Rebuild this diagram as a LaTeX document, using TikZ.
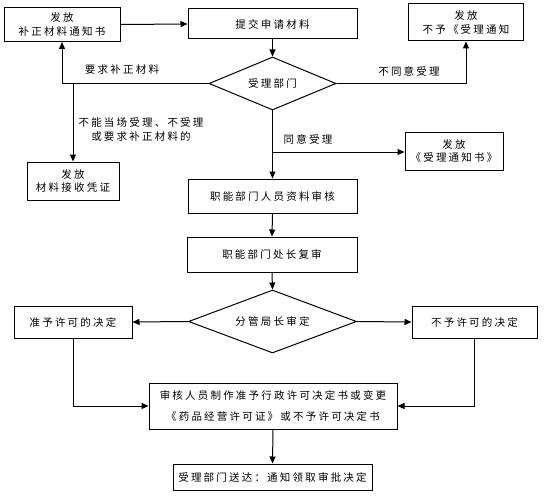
\documentclass[tikz,border=0pt]{standalone}
\usepackage{fontspec}
\newfontfamily\cjk[LetterSpace=21]{Noto Sans CJK SC}
\usetikzlibrary{arrows.meta,shapes.geometric}
\begin{document}
\begin{tikzpicture}[x=1pt,y=-1pt,
  every node/.style={font=\cjk\fontsize{10.5}{13.5}\selectfont, align=center, inner sep=0pt},
  box/.style={draw, line width=1pt, rectangle},
  dia/.style={draw, line width=1pt, diamond, aspect=2.4},
  conn/.style={line width=1pt, -{Triangle[length=7pt,width=6pt]}},
  plain/.style={line width=1pt}]
\useasboundingbox (0,0) rectangle (548,500);
\fill[white] (0,0) rectangle (548,500);
% boxes
\node[box, minimum width=116pt, minimum height=34pt] (b1) at (62,24.5) {发放\\补正材料通知书};
\node[box, minimum width=169pt, minimum height=30pt] (b2) at (272.5,24) {提交申请材料};
\node[box, minimum width=115pt, minimum height=37pt] (b3) at (466,22.5) {发放\\不予《受理通知};
\node[dia, minimum width=127pt, minimum height=53pt] (d1) at (272.5,83.5) {受理部门};
\node[box, minimum width=92pt, minimum height=38pt] (b4) at (73,181) {发放\\材料接收凭证};
\node[box, minimum width=169pt, minimum height=34pt] (b5) at (272.5,196) {职能部门人员资料审核};
\node[box, minimum width=98pt, minimum height=38pt] (b6) at (454,151) {发放\\《受理通知书》};
\node[box, minimum width=170pt, minimum height=35pt] (b7) at (272,254.5) {职能部门处长复审};
\node[dia, minimum width=168pt, minimum height=63pt] (d2) at (272.5,321.5) {分管局长审定};
\node[box, minimum width=118pt, minimum height=32pt] (b10) at (73,322) {准予许可的决定};
\node[box, minimum width=125pt, minimum height=32pt] (b11) at (474.5,322) {不予许可的决定};
\node[box, minimum width=248pt, minimum height=46pt] (b8) at (273,406) {审核人员制作准予行政许可决定书或变更\\[7pt]《药品经营许可证》或不予许可决定书};
\node[box, minimum width=199pt, minimum height=26pt] (b9) at (272.5,477) {受理部门送达：通知领取审批决定};
% labels
\node (l1) at (122,70) {要求补正材料};
\node (l2) at (409,71) {不同意受理};
\node (l3) at (141,129.5) {不能当场受理、不受理\\或要求补正材料的};
\node (l4) at (308,139) {同意受理};
% junctions
\coordinate (j1) at (73,83.5);
\coordinate (j2) at (272.5,152);
% connectors
\draw[conn] (b1.east) -- (b2.west);
\draw[conn] (b2.south) -- (d1.north);
\draw[conn] (d1.west) -| (b1.south);
\draw[conn] (j1) -- (b4.north);
\draw[conn] (d1.east) -| (b3.south);
\draw[conn] (d1.south) -- (b5.north);
\draw[conn] (j2) -- (j2 -| b6.west);
\draw[conn] (b5.south) -- (b7.north);
\draw[conn] (b7.south) -- (d2.north);
\draw[conn] (d2.west) -- (b10.east);
\draw[conn] (d2.east) -- (b11.west);
\draw[conn] (b10.south) |- (b8.west);
\draw[conn] (b11.south) |- (b8.east);
\draw[conn] (b8.south) -- (b9.north);
\end{tikzpicture}
\end{document}
